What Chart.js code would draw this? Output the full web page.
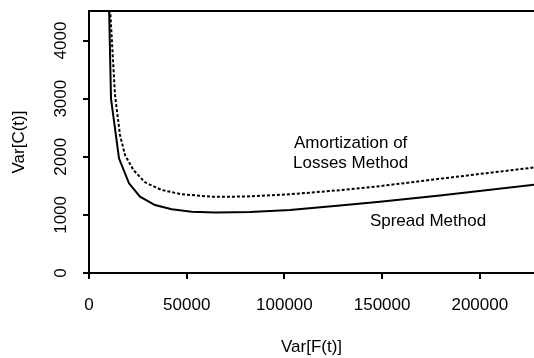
<!DOCTYPE html>
<html><head><meta charset="utf-8">
<script src="https://cdn.jsdelivr.net/npm/chart.js@4"></script>
<style>html,body{margin:0;padding:0;background:#fff}canvas{display:block}</style>
</head><body>
<canvas id="c" width="534" height="358"></canvas>
<script>
const spreadVarF = [10000, 11260, 15350, 20470, 26100, 33770, 42300, 52550, 64470, 82400, 102850, 128400, 148900, 179600, 228000];
const spreadVarC = [5000, 3000, 1974, 1544, 1313, 1170, 1096, 1055, 1040, 1050, 1085, 1160, 1228, 1335, 1520];
const amortVarF = [10000, 10700, 13300, 15860, 18420, 22700, 28650, 37200, 47400, 62800, 80000, 102850, 128400, 148900, 179600, 228000];
const amortVarC = [6000, 4600, 3064, 2375, 2031, 1773, 1561, 1429, 1355, 1313, 1315, 1355, 1425, 1495, 1622, 1817];
const xTicks = [0, 50000, 100000, 150000, 200000];
const yTicks = [0, 1000, 2000, 3000, 4000];
const seriesNames = ['Spread Method', 'Amortization of Losses Method'];
const noteTexts = [['Amortization of', 'Losses Method'], ['Spread Method']];

const FONT = 'Liberation Sans, Arial, sans-serif';

const framePlugin = {
  id: 'frame',
  afterDraw(chart) {
    const {ctx, chartArea: a} = chart;
    ctx.save();
    ctx.strokeStyle = '#000';
    ctx.lineWidth = 2;
    ctx.beginPath();
    ctx.moveTo(a.left - 1, a.top);
    ctx.lineTo(a.right, a.top);
    ctx.stroke();
    ctx.restore();
  }
};

const notesPlugin = {
  id: 'notes',
  afterDraw(chart, args, opts) {
    const {ctx} = chart;
    const xs = chart.scales.x, ys = chart.scales.y;
    ctx.save();
    ctx.fillStyle = '#000';
    ctx.font = '17px ' + FONT;
    ctx.textAlign = 'center';
    ctx.textBaseline = 'alphabetic';
    opts.items.forEach(it => {
      const px = xs.getPixelForValue(it.x);
      it.lines.forEach((t, i) => {
        ctx.fillText(t, px, ys.getPixelForValue(it.y[i]));
      });
    });
    ctx.restore();
  }
};

new Chart(document.getElementById('c'), {
  type: 'line',
  data: {
    datasets: [
      {
        label: seriesNames[0],
        data: spreadVarF.map((x, i) => ({x, y: spreadVarC[i]})),
        borderColor: '#000', borderWidth: 2, pointRadius: 0, tension: 0, fill: false
      },
      {
        label: seriesNames[1],
        data: amortVarF.map((x, i) => ({x, y: amortVarC[i]})),
        borderColor: '#000', borderWidth: 2, borderDash: [3, 2], pointRadius: 0, tension: 0, fill: false
      }
    ]
  },
  options: {
    responsive: false,
    animation: false,
    devicePixelRatio: 1,
    layout: {padding: {top: 11, right: 0, bottom: 0, left: 0}},
    plugins: {
      legend: {display: false},
      tooltip: {enabled: false},
      notes: {
        items: [
          {lines: noteTexts[0], x: 133900, y: [2157, 1802]},
          {lines: noteTexts[1], x: 173500, y: [814]}
        ]
      }
    },
    scales: {
      x: {
        type: 'linear', min: 0, max: 227740,
        afterBuildTicks: s => { s.ticks = xTicks.map(v => ({value: v})); },
        afterFit: s => { s.height = 85; s.paddingLeft = 0; s.paddingRight = 0; },
        grid: {display: true, drawOnChartArea: false, drawTicks: true, tickLength: 6, color: '#000', lineWidth: 2},
        border: {display: true, color: '#000', width: 2},
        ticks: {color: '#000', font: {family: FONT, size: 17}, padding: 16, maxRotation: 0, autoSkip: false, callback: v => String(v)},
        title: {display: true, text: 'Var[F(t)]', color: '#000', font: {family: FONT, size: 17}, padding: {top: 0, bottom: 0}}
      },
      y: {
        type: 'linear', min: 0, max: 4509,
        afterBuildTicks: s => { s.ticks = yTicks.map(v => ({value: v})); },
        afterFit: s => { s.width = 89; s.paddingTop = 0; s.paddingBottom = 0; },
        grid: {display: true, drawOnChartArea: false, drawTicks: true, tickLength: 6, color: '#000', lineWidth: 2},
        border: {display: true, color: '#000', width: 2},
        ticks: {color: '#000', font: {family: FONT, size: 17}, padding: 3, minRotation: 90, maxRotation: 90, crossAlign: 'center', autoSkip: false, callback: v => String(v)},
        title: {display: true, text: 'Var[C(t)]', color: '#000', font: {family: FONT, size: 17}, padding: {top: 9, bottom: 0}}
      }
    }
  },
  plugins: [framePlugin, notesPlugin]
});
</script>
</body></html>
